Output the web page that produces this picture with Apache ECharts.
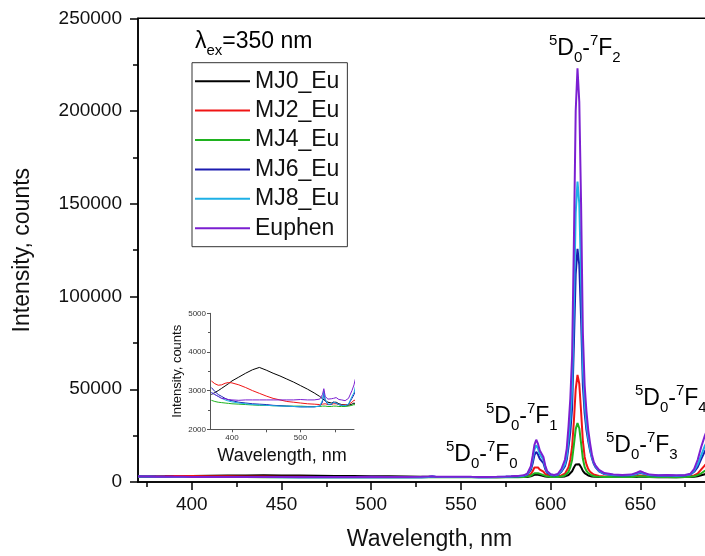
<!DOCTYPE html>
<html><head><meta charset="utf-8">
<script src="https://cdn.jsdelivr.net/npm/echarts/dist/echarts.min.js"></script>
<style>html,body{margin:0;padding:0;background:#fff;overflow:hidden;width:705px;height:556px}#c{width:740px;height:556px}</style>
</head><body><div id="c"></div><script>
const wavelength = [370,375,380,385,390,395,400,410,420,430,440,450,460,470,480,490,500,510,520,528,532,534,536,540,545,548,552,556,560,565,570,575,578,
580,582,585,587,589,590,591,592,593,594,595,596,597,598,600,602,604,606,608,609,610,611,612,613,614,615,616,617,618,619,620,621,622,623,624,625,627,630,635,640,645,648,650,652,655,660,665,670,675,678,680,682,684,686,688,690,692];
const mj0 = [2900,2950,3000,3060,3120,3180,3250,3350,3450,3540,3600,3530,3450,3380,3300,3220,3130,3040,2940,2850,2790,2760,2740,2700,2680,2700,2700,2660,2640,2630,2620,2650,2680,
2640,2640,2650,2750,3100,3500,3900,4080,3900,3600,3500,3300,3000,2800,2700,2650,2700,2800,3000,3300,3800,4500,5800,7800,9500,10000,9600,8000,6000,4800,4000,3500,3200,3000,2900,2850,2750,2700,2650,2650,2650,2750,2900,2800,2650,2620,2620,2600,2650,2700,2850,3100,3600,4200,4800,5200,5500];
const mj2 = [3250,3180,3140,3150,3190,3210,3200,3150,3080,3000,2930,2860,2800,2760,2720,2700,2680,2660,2650,2640,2650,2700,2660,2640,2640,2660,2660,2640,2630,2630,2640,2700,2750,
2750,2750,2900,3200,4300,5800,7800,8580,7800,6700,6400,5600,4300,3500,3000,2900,3000,3500,4500,5500,8000,12000,19000,33000,50000,57700,53000,38000,22000,13500,9500,7000,5500,4500,4000,3600,3200,3000,2900,2850,2900,3200,3500,3300,2950,2850,2850,2800,2900,3100,3500,4500,6800,9000,11000,12500,13500];
const mj4 = [2750,2720,2700,2690,2680,2670,2660,2650,2640,2630,2620,2620,2610,2610,2600,2600,2600,2590,2590,2590,2600,2620,2600,2590,2590,2600,2600,2590,2590,2590,2600,2620,2640,
2620,2620,2700,2900,3400,4000,4700,5000,4700,4200,4100,3800,3300,3000,2750,2700,2750,3000,3500,4000,5500,8000,12000,20000,28500,31800,29000,21000,12500,8000,6000,4800,4000,3500,3200,3000,2800,2700,2650,2650,2700,2900,3100,2950,2700,2650,2650,2620,2700,2800,3100,3700,4700,6000,7000,8000,8500];
const mj6 = [3080,2980,2900,2850,2800,2760,2740,2700,2680,2660,2650,2640,2620,2610,2600,2590,2580,2580,2580,2600,2700,2950,2750,2640,2640,2700,2680,2640,2620,2610,2650,2800,2900,
3000,3000,3300,3900,6500,10000,14500,16250,14800,12500,12000,10200,7000,5000,3800,3500,3800,5500,8500,12000,19000,27000,40000,75000,112000,125700,117000,88000,52000,37000,28000,22000,17000,13000,10000,8000,5800,4300,3700,3500,3700,4300,5000,4400,3700,3400,3500,3300,3500,4000,5500,8000,12500,16500,19500,22000,24000];
const mj8 = [2950,2900,2850,2800,2760,2730,2710,2680,2660,2640,2630,2620,2610,2600,2600,2590,2580,2580,2580,2600,2750,3000,2780,2650,2650,2700,2680,2640,2620,2610,2650,2850,2950,
3100,3100,3400,4200,7500,12000,17500,19850,18000,15000,14200,12000,8000,5500,4000,3600,4000,6000,9500,14000,23000,34000,50000,95000,145000,162000,150000,110000,62000,42000,31000,24000,18000,13500,10500,8500,6000,4500,3800,3600,3800,4500,5200,4600,3800,3500,3600,3400,3600,4200,6000,9500,14500,19500,23000,26000,28000];
const euphen = [2950,2900,2850,2800,2790,2770,2760,2750,2760,2760,2760,2760,2760,2760,2760,2760,2770,2760,2760,2780,2900,3050,2850,2780,2790,2800,2820,2770,2760,2740,2800,3000,3150,
3300,3300,3600,4500,8500,14000,20000,22800,20500,17000,16000,13500,9000,6000,4200,3800,4300,7000,12000,18000,30000,45000,68000,130000,200000,223000,205000,150000,80000,52000,38000,28000,21000,15000,11000,9000,6500,4800,4000,3800,4000,5000,5800,5000,4000,3700,3800,3600,3800,4500,7000,12000,19000,25000,30000,33000,35000];

const seriesNames = ['MJ0_Eu','MJ2_Eu','MJ4_Eu','MJ6_Eu','MJ8_Eu','Euphen'];
const seriesColors = ['#000000','#f01414','#1fb21f','#1c1cb0','#1eb0e6','#7b1fd1'];
const seriesValues = [mj0, mj2, mj4, mj6, mj8, euphen];
const xTickLabels = [400,450,500,550,600,650];
const xMinorTicks = [375,425,475,525,575,625,675];
const insetXLabels = [400,500];
const insetXTicks = [400,450,500,550];

const FF = '"Liberation Sans", Arial, sans-serif';
const chart = echarts.init(document.getElementById('c'), null, {renderer:'canvas'});

function pairs(vals){ return wavelength.map((w,i)=>[w, vals[i]]); }
const plain = v => String(v);

const series = [];
seriesValues.forEach((v,i)=>{
  series.push({name:seriesNames[i], type:'line', xAxisIndex:0, yAxisIndex:0, data:pairs(v),
    showSymbol:false, symbol:'none', lineStyle:{width:2, color:seriesColors[i]}, itemStyle:{color:seriesColors[i]}, z:2+i, animation:false});
});
seriesValues.forEach((v,i)=>{
  series.push({name:'inset_'+i, type:'line', xAxisIndex:2, yAxisIndex:1, data:pairs(v), clip:true,
    showSymbol:false, symbol:'none', lineStyle:{width:1, color:seriesColors[i]}, itemStyle:{color:seriesColors[i]}, z:2+i, animation:false});
});

const richT = {
  m:{fontSize:23, lineHeight:32, fontFamily:FF, color:'#111'},
  sup:{fontSize:15, lineHeight:16, verticalAlign:'top', fontFamily:FF, color:'#111'},
  sub:{fontSize:15, lineHeight:16, verticalAlign:'bottom', fontFamily:FF, color:'#111'}
};
function ann(txt, x, baseline){
  return {type:'text', x:x, y:baseline-24, z:50, style:{text:txt, rich:richT, verticalAlign:'top', align:'left'}};
}
const annotations = [
  ann('{sup|5}{m|D}{sub|0}{m|-}{sup|7}{m|F}{sub|2}', 549, 57),
  ann('{sup|5}{m|D}{sub|0}{m|-}{sup|7}{m|F}{sub|1}', 486, 425),
  ann('{sup|5}{m|D}{sub|0}{m|-}{sup|7}{m|F}{sub|0}', 446, 463),
  ann('{sup|5}{m|D}{sub|0}{m|-}{sup|7}{m|F}{sub|3}', 606, 454),
  ann('{sup|5}{m|D}{sub|0}{m|-}{sup|7}{m|F}{sub|4}', 635, 407),
  ann('{m|λ}{sub|ex}{m|=350 nm}', 195, 50)
];

const axisBlack = {color:'#000', width:1.5};
chart.setOption({
  animation:false,
  backgroundColor:'#fff',
  grid:[
    {left:138, top:18.3, width:583, height:466, show:true, borderColor:'#000', borderWidth:1.5, backgroundColor:'transparent'},
    {left:210, top:313.3, width:144, height:116, show:false}
  ],
  legend:{
    data:seriesNames, orient:'vertical', left:192, top:62.7, icon:'rect', itemWidth:55, itemHeight:2, itemGap:6.4,
    padding:[7,8,7,3], borderColor:'#333', borderWidth:1, backgroundColor:'#fff',
    textStyle:{fontSize:23, lineHeight:23, color:'#111', fontFamily:FF}, selectedMode:false
  },
  xAxis:[
    {type:'value', gridIndex:0, min:370, max:695, position:'bottom',
      axisLine:{show:true, onZero:false, lineStyle:axisBlack},
      axisTick:{show:true, customValues:xTickLabels, length:8, lineStyle:axisBlack},
      axisLabel:{customValues:xTickLabels, fontSize:19, color:'#111', margin:13, fontFamily:FF, formatter:plain},
      splitLine:{show:false},
      name:'Wavelength, nm', nameLocation:'middle', nameGap:46,
      nameTextStyle:{fontSize:23, color:'#111', fontFamily:FF}},
    {type:'value', gridIndex:0, min:370, max:695, position:'bottom',
      axisLine:{show:false, onZero:false},
      axisTick:{show:true, customValues:xMinorTicks, length:5, lineStyle:axisBlack},
      axisLabel:{show:false}, splitLine:{show:false}},
    {type:'value', gridIndex:1, min:368, max:578, position:'bottom',
      axisLine:{show:true, onZero:false, lineStyle:{color:'#555', width:1}},
      axisTick:{show:true, customValues:insetXTicks, length:3, lineStyle:{color:'#555'}},
      axisLabel:{customValues:insetXLabels, fontSize:8, color:'#333', margin:4, fontFamily:FF, formatter:plain},
      splitLine:{show:false},
      name:'Wavelength, nm', nameLocation:'middle', nameGap:18,
      nameTextStyle:{fontSize:18, color:'#111', fontFamily:FF}}
  ],
  yAxis:[
    {type:'value', gridIndex:0, min:0, max:250000, interval:50000, position:'left',
      axisLine:{show:true, onZero:false, lineStyle:axisBlack},
      axisTick:{show:true, length:8, lineStyle:axisBlack},
      minorTick:{show:true, splitNumber:2, length:5, lineStyle:axisBlack},
      axisLabel:{fontSize:19, color:'#111', margin:16, fontFamily:FF, formatter:plain},
      splitLine:{show:false}, minorSplitLine:{show:false},
      name:'Intensity, counts', nameLocation:'middle', nameGap:104,
      nameTextStyle:{fontSize:23, color:'#111', fontFamily:FF}},
    {type:'value', gridIndex:1, min:2000, max:5000, interval:1000, position:'left',
      axisLine:{show:true, onZero:false, lineStyle:{color:'#555', width:1}},
      axisTick:{show:true, length:3, lineStyle:{color:'#555'}},
      minorTick:{show:true, splitNumber:2, length:2, lineStyle:{color:'#555'}},
      axisLabel:{fontSize:8, color:'#333', margin:4, fontFamily:FF, formatter:plain},
      splitLine:{show:false}, minorSplitLine:{show:false},
      name:'Intensity, counts', nameLocation:'middle', nameGap:26,
      nameTextStyle:{fontSize:13, color:'#111', fontFamily:FF}}
  ],
  graphic:annotations,
  series:series
});
</script></body></html>
